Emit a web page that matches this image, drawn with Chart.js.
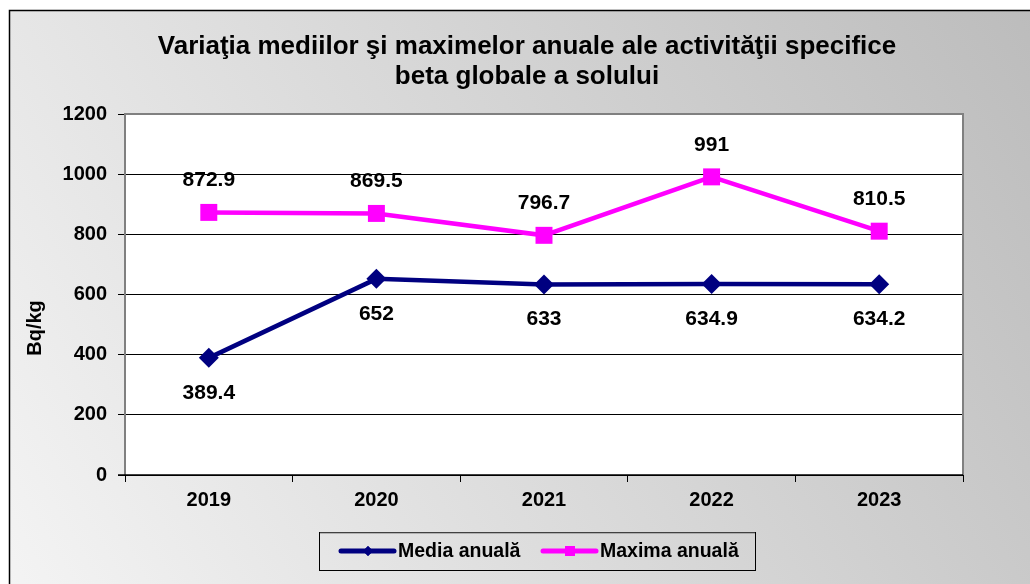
<!DOCTYPE html>
<html>
<head>
<meta charset="utf-8">
<script src="https://cdn.jsdelivr.net/npm/chart.js"></script>
<style>
  html, body { margin: 0; padding: 0; background: #fff; }
  #wrap { width: 1030px; height: 584px; }
</style>
</head>
<body>
<div id="wrap"><canvas id="my-chart" width="1030" height="584"></canvas></div>
<script>
// chart data
const years = ["2019", "2020", "2021", "2022", "2023"];
const mediaAnuala = [389.4, 652, 633, 634.9, 634.2];
const maximaAnuala = [872.9, 869.5, 796.7, 991, 810.5];
const titleLines = ["Variaţia mediilor şi maximelor anuale ale activităţii specifice", "beta globale a solului"];
const yTitle = "Bq/kg";

const FONT = "Arial, 'Liberation Sans', sans-serif";

// background, frame, title, point labels, legend
const decor = {
  id: "decor",
  beforeDraw(chart) {
    const c = chart.ctx;
    const g = c.createLinearGradient(0, 584, 1030, 0);
    g.addColorStop(0, "#f4f4f4");
    g.addColorStop(1, "#bcbcbc");
    c.save();
    c.fillStyle = "#fff";
    c.fillRect(0, 0, 1030, 584);
    c.fillStyle = g;
    c.fillRect(9, 10, 1021, 574);
    c.strokeStyle = "#000";
    c.lineWidth = 1.5;
    c.beginPath();
    c.moveTo(9.5, 584);
    c.lineTo(9.5, 10.5);
    c.lineTo(1030, 10.5);
    c.stroke();
    const a = chart.chartArea;
    c.fillStyle = "#fff";
    c.fillRect(a.left, a.top, a.right - a.left, a.bottom - a.top);
    c.restore();
  },
  afterDraw(chart) {
    const c = chart.ctx;
    const a = chart.chartArea;
    c.save();
    // plot border
    c.strokeStyle = "#808080";
    c.lineWidth = 2;
    c.beginPath();
    c.moveTo(a.left, a.bottom);
    c.lineTo(a.left, a.top);
    c.lineTo(a.right, a.top);
    c.lineTo(a.right, a.bottom);
    c.stroke();
    c.strokeStyle = "#000";
    c.lineWidth = 1.5;
    c.beginPath();
    c.moveTo(a.left - 7, a.bottom);
    c.lineTo(a.right, a.bottom);
    c.stroke();

    // title
    c.fillStyle = "#000";
    c.textAlign = "center";
    c.textBaseline = "middle";
    c.font = "bold 26px " + FONT;
    c.fillText(titleLines[0], 527, 47);
    c.fillText(titleLines[1], 527, 77);

    // y axis title
    c.font = "bold 20px " + FONT;
    c.save();
    c.translate(35, 328);
    c.rotate(-Math.PI / 2);
    c.fillText(yTitle, 0, 0);
    c.restore();

    // point labels
    c.font = "bold 21px " + FONT;
    chart.getDatasetMeta(1).data.forEach((p, i) => {
      c.fillText(String(maximaAnuala[i]), p.x, p.y - 32);
    });
    chart.getDatasetMeta(0).data.forEach((p, i) => {
      c.fillText(String(mediaAnuala[i]), p.x, p.y + 35);
    });

    // legend
    c.strokeStyle = "#000";
    c.lineWidth = 1;
    c.strokeRect(319.5, 532.5, 436, 38);
    c.strokeStyle = "#808080";
    c.beginPath();
    c.moveTo(320, 533);
    c.lineTo(755, 533);
    c.stroke();
    const items = [
      { x: 341, color: "#000080", style: "rectRot", r: 5, text: "Media anuală" },
      { x: 543, color: "#FF00FF", style: "rect", r: 7, text: "Maxima anuală" }
    ];
    c.font = "bold 19.5px " + FONT;
    c.textAlign = "left";
    items.forEach(it => {
      const y = 551;
      c.strokeStyle = it.color;
      c.lineWidth = 5;
      c.lineCap = "round";
      c.beginPath();
      c.moveTo(it.x, y);
      c.lineTo(it.x + 53, y);
      c.stroke();
      c.fillStyle = it.color;
      Chart.helpers.drawPoint(c, { pointStyle: it.style, radius: it.r, borderWidth: 0 }, it.x + 27, y);
      c.fill();
      c.fillStyle = "#000";
      c.fillText(it.text, it.x + 57, y + 1);
    });
    c.restore();
  }
};

const ctx = document.getElementById("my-chart").getContext("2d");

const myChart = new Chart(ctx, {
  type: "line",
  data: {
    labels: years,
    datasets: [
      {
        label: "Media anuală",
        data: mediaAnuala,
        borderColor: "#000080",
        backgroundColor: "#000080",
        borderWidth: 4.5,
        pointStyle: "rectRot",
        pointRadius: 10,
        pointHoverRadius: 10,
        pointBorderWidth: 0,
        tension: 0
      },
      {
        label: "Maxima anuală",
        data: maximaAnuala,
        borderColor: "#FF00FF",
        backgroundColor: "#FF00FF",
        borderWidth: 4.5,
        pointStyle: "rect",
        pointRadius: 12,
        pointHoverRadius: 12,
        pointBorderWidth: 0,
        tension: 0
      }
    ]
  },
  options: {
    responsive: false,
    animation: false,
    layout: { padding: { top: 114, right: 67, left: 0, bottom: 0 } },
    plugins: {
      legend: { display: false },
      title: { display: false },
      tooltip: { enabled: false }
    },
    scales: {
      x: {
        offset: true,
        grid: {
          display: true,
          drawOnChartArea: false,
          offset: true,
          color: "#000",
          tickLength: 7
        },
        border: { display: false },
        ticks: {
          color: "#000",
          font: { family: FONT, size: 20, weight: "bold" },
          padding: 6
        },
        afterFit(scale) { scale.height = 109; }
      },
      y: {
        min: 0,
        max: 1200,
        ticks: {
          stepSize: 200,
          color: "#000",
          font: { family: FONT, size: 20, weight: "bold" },
          padding: 11,
          callback: v => String(v)
        },
        grid: {
          color: "#000",
          lineWidth: 1,
          tickLength: 7,
          tickColor: "#000"
        },
        border: { display: false },
        afterFit(scale) { scale.width = 125; }
      }
    }
  },
  plugins: [decor]
});
</script>
</body>
</html>
